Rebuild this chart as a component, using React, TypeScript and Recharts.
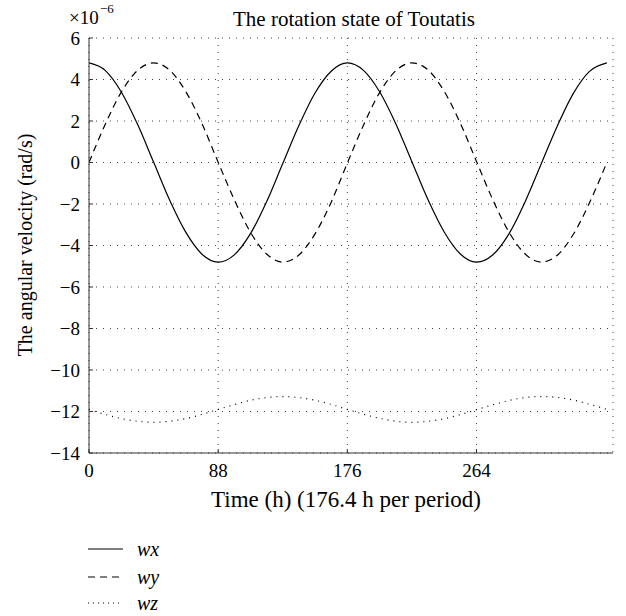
import { CartesianGrid, Line, LineChart, XAxis, YAxis } from "recharts";

// time in hours, angular velocity components in units of 1e-6 rad/s
const hours = [
  0, 11, 22, 33, 44, 55, 66, 77, 88, 99, 110, 121, 132, 143, 154, 165, 176,
  187, 198, 209, 220, 231, 242, 253, 264, 275, 286, 297, 308, 319, 330, 341,
  352.8,
];
const wx = [
  4.8, 4.44, 3.4, 1.85, 0.02, -1.82, -3.37, -4.42, -4.8, -4.45, -3.43, -1.89,
  -0.05, 1.78, 3.35, 4.4, 4.8, 4.44, 3.41, 1.87, 0.04, -1.8, -3.35, -4.41,
  -4.8, -4.46, -3.45, -1.91, -0.08, 1.75, 3.33, 4.39, 4.8,
];
const wy = [
  0, 1.83, 3.39, 4.43, 4.8, 4.45, 3.41, 1.87, 0.01, -1.8, -3.36, -4.41, -4.8,
  -4.46, -3.44, -1.91, -0.03, 1.8, 3.37, 4.42, 4.8, 4.46, 3.43, 1.89, 0.05,
  -1.78, -3.34, -4.4, -4.8, -4.47, -3.46, -1.94, 0,
];
const wz = [
  -11.9, -12.14, -12.34, -12.47, -12.52, -12.47, -12.34, -12.14, -11.9,
  -11.67, -11.46, -11.33, -11.28, -11.33, -11.46, -11.66, -11.9, -12.13,
  -12.33, -12.47, -12.52, -12.47, -12.35, -12.15, -11.91, -11.68, -11.47,
  -11.33, -11.28, -11.32, -11.45, -11.65, -11.9,
];

const xTicks = [0, 88, 176, 264];
const yTicks = [-14, -12, -10, -8, -6, -4, -2, 0, 2, 4, 6];

const series = [
  { key: "wx", dash: undefined as string | undefined },
  { key: "wy", dash: "7 5" },
  { key: "wz", dash: "1 5" },
];

const rows = hours.map((h, i) => ({ h, wx: wx[i], wy: wy[i], wz: wz[i] }));

const serif = '"Liberation Serif", "DejaVu Serif", serif';
const frame = "#333";
const fmt = (v: number) => String(v).replace("-", "\u2212");

export default function App() {
  return (
    <div
      style={{
        position: "absolute",
        left: 0,
        top: 0,
        width: 626,
        height: 616,
        background: "#fff",
        fontFamily: serif,
        color: "#000",
      }}
    >
      <LineChart
        width={626}
        height={616}
        data={rows}
        margin={{ top: 38, right: 13, bottom: 133, left: 0 }}
      >
        <CartesianGrid stroke="#444" strokeDasharray="1 6" />
        <XAxis
          dataKey="h"
          type="number"
          domain={[0, 357]}
          ticks={xTicks}
          allowDataOverflow
          height={30}
          tickSize={-4}
          tickMargin={15}
          stroke={frame}
          tick={{ fill: "#000", fontSize: 19, fontFamily: serif }}
        />
        <XAxis
          xAxisId="top"
          orientation="top"
          type="number"
          domain={[0, 357]}
          ticks={xTicks}
          allowDataOverflow
          height={0}
          tickSize={-4}
          tick={false}
          stroke={frame}
        />
        <YAxis
          type="number"
          domain={[-14, 6]}
          ticks={yTicks}
          allowDataOverflow
          width={89}
          tickSize={-4}
          tickMargin={13}
          tickFormatter={fmt}
          stroke={frame}
          tick={{ fill: "#000", fontSize: 19, fontFamily: serif }}
        />
        <YAxis
          yAxisId="right"
          orientation="right"
          type="number"
          domain={[-14, 6]}
          ticks={yTicks}
          allowDataOverflow
          width={0}
          tickSize={-4}
          tick={false}
          stroke={frame}
        />
        {series.map((s) => (
          <Line
            key={s.key}
            dataKey={s.key}
            type="monotone"
            stroke="#000"
            strokeWidth={1.2}
            strokeDasharray={s.dash}
            dot={false}
            isAnimationActive={false}
          />
        ))}
      </LineChart>

      {/* title, exponent and axis titles */}
      <svg
        width={626}
        height={616}
        style={{ position: "absolute", left: 0, top: 0, pointerEvents: "none" }}
        fontFamily={serif}
      >
        <text x={354} y={26} textAnchor="middle" fontSize={21}>
          The rotation state of Toutatis
        </text>
        <text x={69} y={24} fontSize={19}>
          ×10
        </text>
        <text x={100} y={13} fontSize={13}>
          {"\u2212"}6
        </text>
        <text x={346} y={507} textAnchor="middle" fontSize={23}>
          Time (h) (176.4 h per period)
        </text>
        <text
          x={25}
          y={245}
          transform="rotate(-90 25 245)"
          textAnchor="middle"
          dominantBaseline="central"
          fontSize={20}
        >
          The angular velocity (rad/s)
        </text>
      </svg>

      {/* legend */}
      <svg
        width={200}
        height={86}
        style={{ position: "absolute", left: 0, top: 530 }}
      >
        {series.map((s, i) => {
          const y = [19, 47, 73][i];
          return (
            <g key={s.key}>
              <line
                x1={88}
                x2={123}
                y1={y}
                y2={y}
                stroke="#000"
                strokeWidth={1.2}
                strokeDasharray={s.dash === "1 5" ? "1 4" : s.dash}
              />
              <text
                x={137}
                y={y}
                dominantBaseline="central"
                fontStyle="italic"
                fontSize={20}
                fontFamily={serif}
              >
                {s.key}
              </text>
            </g>
          );
        })}
      </svg>
    </div>
  );
}
